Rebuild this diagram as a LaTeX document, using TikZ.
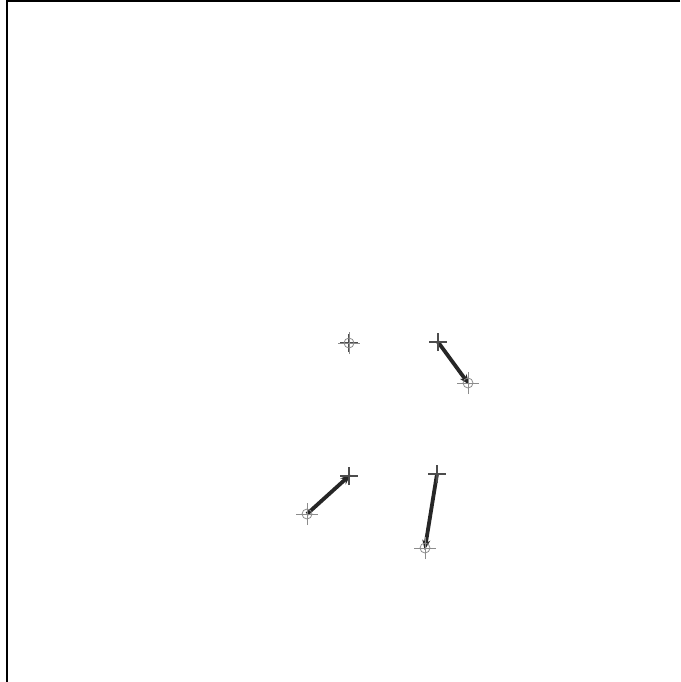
\documentclass[tikz,border=0pt]{standalone}
\usetikzlibrary{arrows.meta}
\begin{document}
\begin{tikzpicture}[x=1pt,y=-1pt,
  plusmark/.style={draw=black!70,line width=1.1pt},
  circmark/.style={draw=black!45,line width=0.8pt},
  vec/.style={draw=black!85,line width=3.8pt,-{Stealth[length=10pt,width=8pt]},shorten >=-2pt}]
\useasboundingbox (0,0) rectangle (680,682);
\draw[line width=1.4pt] (680,1) -- (7,1) -- (7,682);
% points
\coordinate (p0) at (349,343);
\coordinate (a1) at (438,342); \coordinate (b1) at (468,383);
\coordinate (a2) at (307,514); \coordinate (b2) at (349,476);
\coordinate (a3) at (437,474); \coordinate (b3) at (425,548);
% vectors
\draw[vec] (a1) -- (b1);
\draw[vec] (a2) -- (b2);
\draw[vec] (a3) -- (b3);
% markers
\foreach \p in {p0,a1,b2,a3}{
  \draw[plusmark] ([xshift=-9pt]\p) -- ([xshift=9pt]\p);
  \draw[plusmark] ([yshift=-9pt]\p) -- ([yshift=9pt]\p);
}
\foreach \p in {p0,b1,a2,b3}{
  \draw[circmark] (\p) circle (5pt);
  \draw[circmark] ([xshift=-11pt]\p) -- ([xshift=11pt]\p);
  \draw[circmark] ([yshift=-11pt]\p) -- ([yshift=11pt]\p);
}
\end{tikzpicture}
\end{document}
